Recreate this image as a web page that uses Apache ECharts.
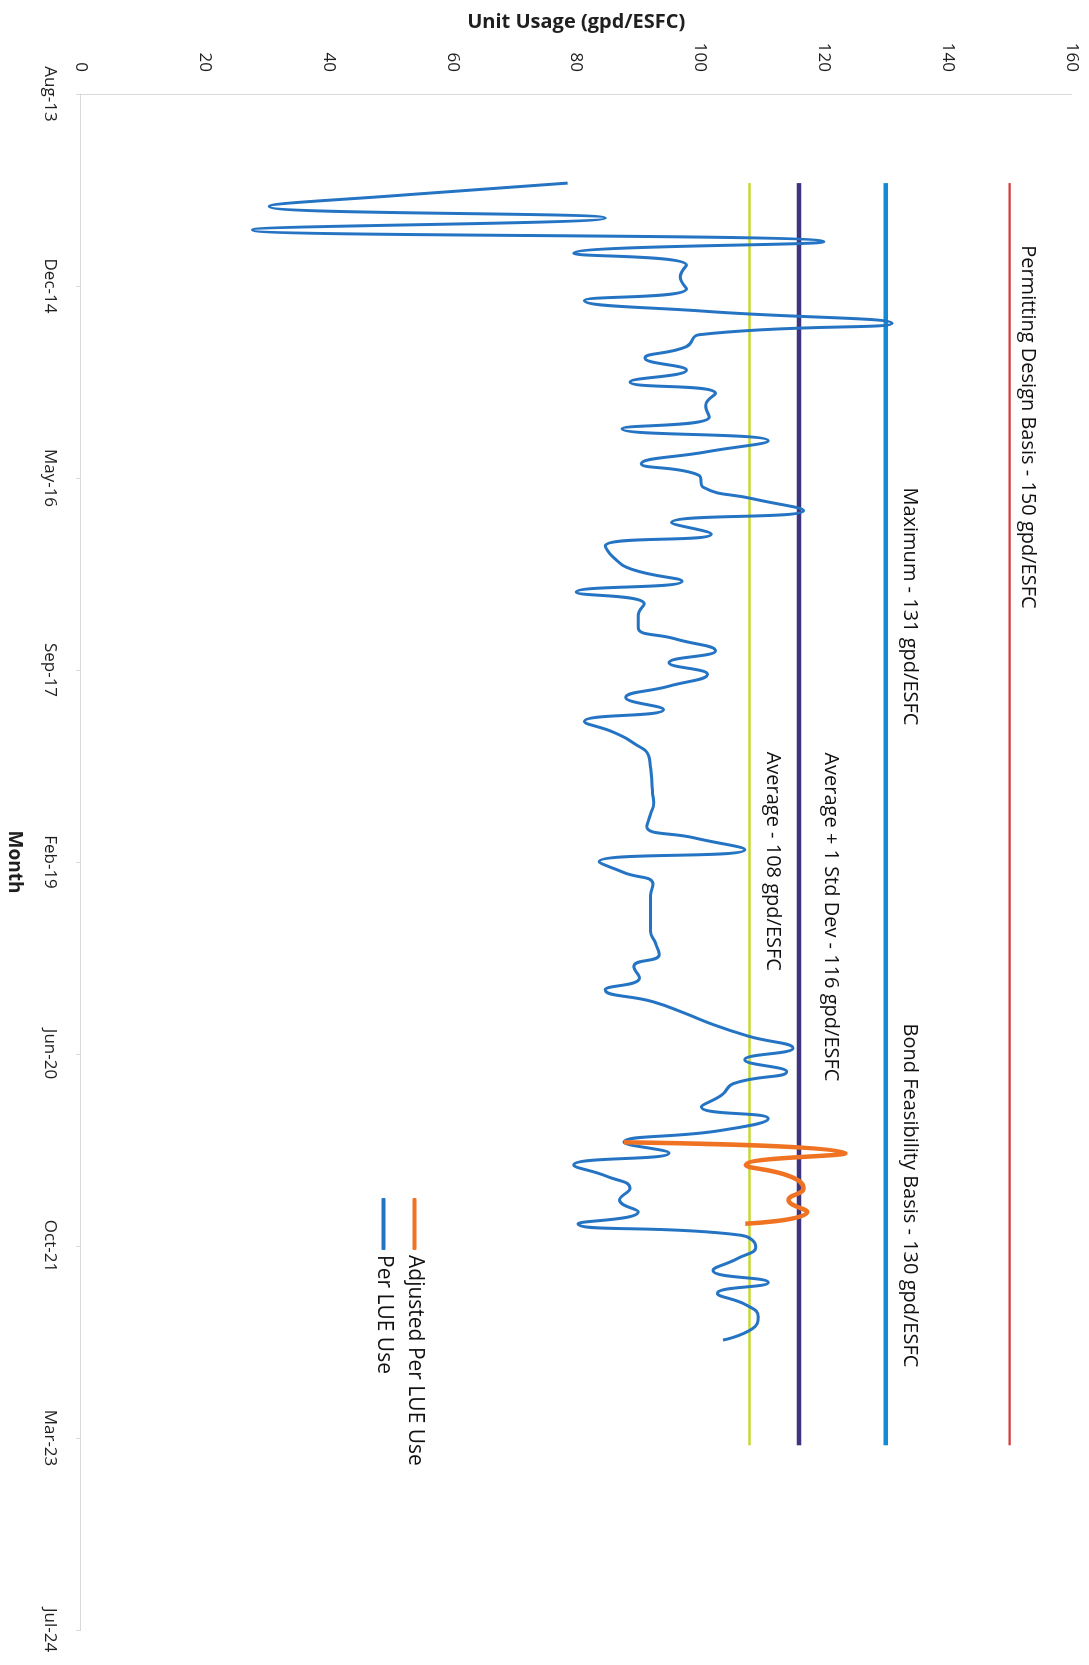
<!DOCTYPE html>
<html>
<head>
<meta charset="utf-8">
<script src="https://cdn.jsdelivr.net/npm/echarts@6/dist/echarts.min.js"></script>
<style>
  html, body { margin: 0; padding: 0; background: #fff; overflow: hidden; width: 1089px; height: 1665px; }
  /* The chart is laid out landscape and turned a quarter turn clockwise onto the portrait page. */
  #chart { position: absolute; left: 0; top: 0; width: 1665px; height: 1089px;
           transform-origin: 0 0; transform: translate(1089px, 0) rotate(90deg); }
</style>
</head>
<body>
<div id="chart"></div>
<script>
// Time axis: day offsets from the axis origin, one labelled tick every 500 days.
const AXIS_START = Date.UTC(2013, 7, 12);
const DAY_MS = 86400000;
const tickLabels = ['Aug-13', 'Dec-14', 'May-16', 'Sep-17', 'Feb-19', 'Jun-20', 'Oct-21', 'Mar-23', 'Jul-24'];

// Monthly unit usage (gpd/ESFC), April 2014 through July 2022.
const perLueStart = [2014, 4];
const perLueUse = [
  78.6, 53, 30.4, 84.7, 27.7, 120, 79.6, 97.8, 96.8, 97.8,
  81.3, 101, 131, 99.8, 97.8, 91.1, 97.8, 88.7, 102.5, 100.9,
  101.5, 87.4, 111, 101, 90.5, 99.8, 100.5, 108.5, 116.7, 95.4,
  101.8, 84.7, 86, 89, 97.1, 80, 91, 90, 90, 96,
  102.5, 95, 101.2, 95, 88, 94.1, 81.3, 86, 89.5, 91.7,
  92, 92.2, 92.3, 92.5, 92, 91.4, 99, 107.2, 83.7, 87.6,
  92.4, 92, 92, 92, 92, 92.8, 93.4, 89.3, 90.2, 84.7,
  92.4, 97.4, 102.2, 107.9, 115, 107.2, 114, 105.4, 103.5, 100.2,
  111, 103.4, 87.7, 95, 79.6, 85, 88.7, 87, 90, 80.3,
  106.6, 109, 106, 102.1, 111, 102.8, 107.5, 109.4, 108.5, 103.7
];

// Adjusted usage, February 2021 through September 2021.
const adjustedStart = [2021, 2];
const adjustedUse = [87.7, 123.5, 107.4, 114.6, 116.7, 114.3, 117.3, 107.3];

// Reference levels (gpd/ESFC), drawn from April 2014 to April 2023.
const refStart = [2014, 4];
const refEnd = [2023, 4];
const refValues = [150, 130, 116, 108];
const refLabels = [
  'Permitting Design Basis - 150 gpd/ESFC',
  'Bond Feasibility Basis - 130 gpd/ESFC',
  'Average + 1 Std Dev - 116 gpd/ESFC',
  'Average - 108 gpd/ESFC'
];
const maxValue = 131;
const maxLabel = 'Maximum - 131 gpd/ESFC';

function dayOf(y, m, d) {
  return (Date.UTC(y, m - 1, d || 1) - AXIS_START) / DAY_MS;
}

const perLueData = perLueUse.map((v, i) => [dayOf(perLueStart[0], perLueStart[1] + i), v]);
const adjustedData = adjustedUse.map((v, i) => [dayOf(adjustedStart[0], adjustedStart[1] + i), v]);

// Styling and label placement for each reference line.
const refStyles = [
  { color: '#d63b3b', width: 2.2, labelAt: [2014, 9, 11], lift: 18 },
  { color: '#128bd6', width: 4.5, labelAt: [2020, 3, 30], lift: 23 },
  { color: '#3f3480', width: 4.5, labelAt: [2018, 4, 24], lift: 31 },
  { color: '#c6d835', width: 2.5, labelAt: [2018, 4, 22], lift: 23 }
];

const FONT = 'Open Sans';
const labelText = { fontFamily: FONT, fontSize: 20, color: '#111111' };

function notePoint(date, value, text, lift) {
  return {
    coord: [dayOf(date[0], date[1], date[2]), value],
    symbol: 'rect',
    symbolSize: [1, 1],
    itemStyle: { color: 'rgba(0,0,0,0)' },
    label: Object.assign({
      show: true, formatter: text, position: [0, 0],
      align: 'left', verticalAlign: 'middle', offset: [0, -lift]
    }, labelText)
  };
}

const refSeries = refValues.map((v, i) => {
  const st = refStyles[i];
  const notes = [notePoint(st.labelAt, v, refLabels[i], st.lift)];
  if (v === 130) notes.push(notePoint([2016, 6, 3], maxValue, maxLabel, 17));
  return {
    type: 'line',
    silent: true,
    symbol: 'none',
    z: 1,
    data: [[dayOf(refStart[0], refStart[1]), v], [dayOf(refEnd[0], refEnd[1]), v]],
    lineStyle: { color: st.color, width: st.width },
    itemStyle: { color: st.color },
    markPoint: { silent: true, animation: false, data: notes }
  };
});

const chart = echarts.init(document.getElementById('chart'), null, { renderer: 'canvas' });
chart.setOption({
  animation: false,
  backgroundColor: '#ffffff',
  textStyle: { fontFamily: FONT },
  grid: { left: 94, right: 35, top: 17.5, bottom: 72, containLabel: false },
  xAxis: {
    type: 'value', min: 0, max: 4000, interval: 500,
    axisLine: { show: true, onZero: true, lineStyle: { color: '#d9d9d9', width: 1 } },
    axisTick: { show: true, length: 5, lineStyle: { color: '#d9d9d9' } },
    splitLine: { show: false },
    axisLabel: {
      formatter: v => tickLabels[Math.round(v / 500)],
      fontFamily: FONT, fontSize: 17, color: '#1f1f1f', margin: 23
    },
    name: 'Month', nameLocation: 'middle', nameGap: 57,
    nameTextStyle: { fontFamily: FONT, fontSize: 19, fontWeight: 'bold', color: '#1f1f1f' }
  },
  yAxis: {
    type: 'value', min: 0, max: 160, interval: 20,
    axisLine: { show: true, lineStyle: { color: '#d9d9d9', width: 1 } },
    axisTick: { show: false },
    splitLine: { show: false },
    axisLabel: { fontFamily: FONT, fontSize: 17, color: '#1f1f1f', margin: 22 },
    name: 'Unit Usage (gpd/ESFC)', nameLocation: 'middle', nameGap: 62, nameRotate: 90,
    nameTextStyle: { fontFamily: FONT, fontSize: 20, fontWeight: 'bold', color: '#1f1f1f' }
  },
  legend: {
    orient: 'vertical', left: 1193, top: 659,
    itemWidth: 52, itemHeight: 4, itemGap: 10,
    textStyle: { fontFamily: FONT, fontSize: 21, color: '#111111' },
    data: [
      { name: 'Adjusted Per LUE Use', icon: 'roundRect' },
      { name: 'Per LUE Use', icon: 'roundRect' }
    ]
  },
  series: refSeries.concat([
    {
      name: 'Per LUE Use', type: 'line', smooth: 0.5, symbol: 'none', z: 3,
      data: perLueData,
      lineStyle: { color: '#2574c4', width: 3 },
      itemStyle: { color: '#2574c4' }
    },
    {
      name: 'Adjusted Per LUE Use', type: 'line', smooth: 0.5, symbol: 'none', z: 4,
      data: adjustedData,
      lineStyle: { color: '#f07323', width: 4.5 },
      itemStyle: { color: '#f07323' }
    }
  ])
});
</script>
</body>
</html>
